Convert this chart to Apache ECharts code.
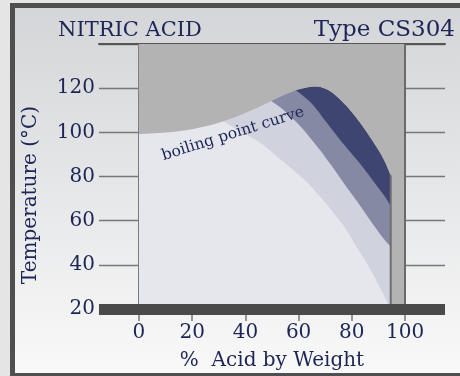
<!DOCTYPE html>
<html>
<head>
<meta charset="utf-8">
<script src="https://cdn.jsdelivr.net/npm/echarts@6/dist/echarts.min.js"></script>
<style>
html,body{margin:0;padding:0;background:#e5e5e5;}
#chart{width:460px;height:376px;}
</style>
</head>
<body>
<div id="chart"></div>
<script>
// ---- data ----
const xTickValues = [0, 20, 40, 60, 80, 100];
const yTickValues = [20, 40, 60, 80, 100, 120];
const chartTitle = 'NITRIC ACID';
const materialType = 'Type CS304';
const xAxisTitle = '%  Acid by Weight';
const yAxisTitle = 'Temperature (°C)';
const curveLabel = 'boiling point curve';

// test region: 0 – 100 % acid, up to 140 °C
const testRegion = [[0, 140], [100, 140]];
// boiling point curve (% acid, °C)
const boilingCurve = [[0, 99.2], [10, 99.9], [20, 101.4], [30, 104.3], [40, 108.7], [50, 114.3], [58, 118.6], [63, 120.3], [66, 120.7], [69, 120.2], [72, 118.5], [75, 115.6], [78, 111.9], [81, 107.6], [84, 102.9], [87, 97.6], [90, 92], [92.5, 86.5], [94.6, 80.5]];
// iso-corrosion boundaries (first point lies above the boiling curve and is hidden)
const band1Edge = [[24, 110.3], [31.6, 105], [38, 100.5], [46, 95], [52, 89], [57.8, 83.2], [63, 77.5], [68, 71], [72.2, 65], [77, 57.5], [80.9, 49.9], [85, 42], [88.4, 34.7], [91.5, 27.5], [94.6, 20]];
const band2Edge = [[44, 119.1], [49.7, 114.2], [54, 110.5], [58, 106], [63, 99.5], [68, 92], [72, 85.5], [77, 77], [81.5, 69.5], [85, 63.5], [88.5, 57.5], [91.5, 52.5], [94.6, 48.3]];
const band3Edge = [[54, 124], [59, 119.1], [65, 113], [70.3, 104.8], [76, 96], [82.8, 86.2], [88, 78], [92.8, 70.3], [94.6, 66.5]];
// upper concentration limit line
const acidLimit = [[94.6, 20], [94.6, 80.5]];

const navy = '#1c2556';
const font = '"DejaVu Serif", serif';
const grey = '#b3b3b3';

function bandOutline(edge) {
  return [testRegion[0]].concat(edge);
}

function areaSeries(name, data, color, z, origin) {
  return {
    name, type: 'line', data, z,
    smooth: 0.35, showSymbol: false, silent: true,
    lineStyle: { width: 0 },
    areaStyle: { color, opacity: 1, origin: origin || 'start' }
  };
}

const chart = echarts.init(document.getElementById('chart'), null, { renderer: 'canvas' });

const option = {
  animation: false,
  backgroundColor: 'transparent',
  grid: { left: 99, right: 15, top: 44, bottom: 66 },
  xAxis: [
    { // thick base bar
      type: 'value', min: -15, max: 115, position: 'bottom', z: 10,
      axisLine: { show: true, lineStyle: { color: '#4a4a4a', width: 11, cap: 'butt' } },
      axisTick: { show: false }, axisLabel: { show: false }, splitLine: { show: false }
    },
    { // ticks and labels below the bar
      type: 'value', min: -15, max: 115, position: 'bottom', offset: 6,
      axisLine: { show: false },
      axisTick: { show: true, length: 6, customValues: xTickValues, lineStyle: { color: '#777', width: 1.5 } },
      axisLabel: { show: true, customValues: xTickValues, margin: 8, color: navy, fontFamily: font, fontSize: 20 },
      splitLine: { show: false },
      name: xAxisTitle, nameLocation: 'middle', nameGap: 36,
      nameTextStyle: { color: navy, fontFamily: font, fontSize: 20 }
    },
    { // top border line
      type: 'value', min: -15, max: 115, position: 'top',
      axisLine: { show: true, lineStyle: { color: '#555', width: 2 } },
      axisTick: { show: false }, axisLabel: { show: false }, splitLine: { show: false }
    }
  ],
  yAxis: {
    type: 'value', min: 20, max: 140, interval: 20,
    axisLine: { show: false }, axisTick: { show: false },
    axisLabel: { margin: 4, color: navy, fontFamily: font, fontSize: 20, showMaxLabel: false },
    splitLine: { show: true, lineStyle: { color: '#777', width: 1.3 } }
  },
  series: [
    Object.assign(areaSeries('region', testRegion, grey, 2), { smooth: false }),
    areaSeries('dark', boilingCurve, '#3e4571', 3),
    areaSeries('mid', bandOutline(band3Edge), '#8589a4', 4),
    areaSeries('light', bandOutline(band2Edge), '#d0d2dd', 5),
    areaSeries('lightest', bandOutline(band1Edge), '#e6e7ec', 6),
    Object.assign(areaSeries('above boiling', boilingCurve, grey, 7, 'end'), {
      markLine: {
        silent: true, symbol: 'none', label: { show: false },
        lineStyle: { color: '#6a6a6a', width: 2, type: 'solid' },
        data: [{ xAxis: xTickValues[0] }, { xAxis: xTickValues[xTickValues.length - 1] }]
      }
    }),
    {
      name: 'limit', type: 'line', data: acidLimit, z: 8, showSymbol: false, silent: true,
      lineStyle: { color: '#6e6e6e', width: 2 }
    }
  ],
  graphic: [
    {
      type: 'rect', z: -10, silent: true,
      shape: { x: 12.5, y: 5.5, width: 460, height: 370 },
      style: {
        stroke: '#4f4f4f', lineWidth: 5,
        fill: new echarts.graphic.LinearGradient(0, 0, 0, 1, [
          { offset: 0, color: '#d3d5d8' }, { offset: 1, color: '#f9f9f9' }
        ])
      }
    },
    {
      type: 'text', z: 100, silent: true,
      style: { x: 58, y: 31, text: chartTitle, font: '21px ' + font, fill: navy, align: 'left', verticalAlign: 'middle' }
    },
    {
      type: 'text', z: 100, silent: true,
      style: { x: 455, y: 30, text: materialType, font: '23px ' + font, fill: navy, align: 'right', verticalAlign: 'middle' }
    },
    {
      type: 'text', z: 100, silent: true, x: 31, y: 195, rotation: Math.PI / 2,
      style: { x: 0, y: 0, text: yAxisTitle, font: '20px ' + font, fill: navy, align: 'center', verticalAlign: 'middle' }
    },
    {
      type: 'text', z: 100, silent: true, x: 233, y: 134, rotation: 17.5 * Math.PI / 180,
      style: { x: 0, y: 0, text: curveLabel, font: '15.5px ' + font, fill: navy, align: 'center', verticalAlign: 'middle' }
    }
  ]
};
chart.setOption(option);
</script>
</body>
</html>
